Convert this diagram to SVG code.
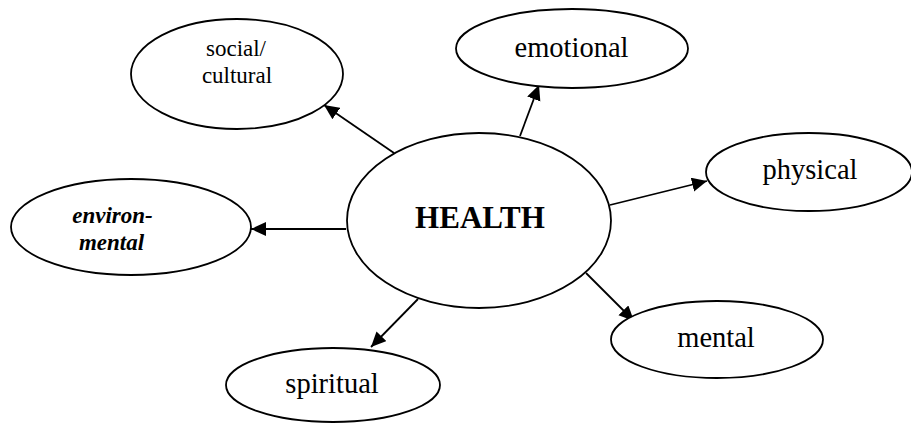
<svg xmlns="http://www.w3.org/2000/svg" width="911" height="423" viewBox="0 0 911 423">
  <style>
    .node ellipse { fill: #ffffff; stroke: #000000; stroke-width: 1.8; }
    .lbl { font-family: "Liberation Serif", "Times New Roman", serif; fill: #000000; text-anchor: middle; }
    .big { font-size: 28.5px; }
    .small { font-size: 23px; }
    .hub { font-size: 31px; font-weight: bold; }
    .env { font-size: 23px; font-weight: bold; font-style: italic; }
    .edge { stroke: #000000; stroke-width: 1.8; fill: none; marker-end: url(#arrow); }
  </style>
  <defs>
    <marker id="arrow" markerUnits="userSpaceOnUse" markerWidth="16" markerHeight="15" refX="15" refY="7" orient="auto">
      <path d="M0,0 L15,7 L0,14 Z" fill="#000000"/>
    </marker>
  </defs>
  <rect width="911" height="423" fill="#ffffff"/>

  <g id="connectors">
    <line class="edge" x1="394" y1="153" x2="324" y2="105"/>
    <line class="edge" x1="520" y1="136" x2="539" y2="85"/>
    <line class="edge" x1="610" y1="205" x2="707" y2="181"/>
    <line class="edge" x1="586" y1="273" x2="634" y2="321"/>
    <line class="edge" x1="418" y1="299" x2="371" y2="347"/>
    <line class="edge" x1="346" y1="229" x2="251" y2="229"/>
  </g>

  <g id="health" class="node">
    <ellipse cx="479" cy="220.5" rx="132" ry="87.5"/>
    <text class="lbl hub" x="480" y="228">HEALTH</text>
  </g>

  <g id="social-cultural" class="node">
    <ellipse cx="237" cy="74" rx="106" ry="55"/>
    <text class="lbl small" x="236" y="56">social/</text>
    <text class="lbl small" x="237" y="83">cultural</text>
  </g>

  <g id="emotional" class="node">
    <ellipse cx="572" cy="48.5" rx="116" ry="39.5"/>
    <text class="lbl big" x="571.5" y="57">emotional</text>
  </g>

  <g id="physical" class="node">
    <ellipse cx="809" cy="172" rx="103" ry="39"/>
    <text class="lbl big" x="810" y="179">physical</text>
  </g>

  <g id="mental" class="node">
    <ellipse cx="717" cy="339.5" rx="106" ry="38.5"/>
    <text class="lbl big" x="716" y="347">mental</text>
  </g>

  <g id="spiritual" class="node">
    <ellipse cx="333" cy="385" rx="107" ry="37"/>
    <text class="lbl big" x="332" y="393">spiritual</text>
  </g>

  <g id="environmental" class="node">
    <ellipse cx="131" cy="227" rx="120" ry="48"/>
    <text class="lbl env" x="112.5" y="223">environ-</text>
    <text class="lbl env" x="111.5" y="250">mental</text>
  </g>
</svg>
